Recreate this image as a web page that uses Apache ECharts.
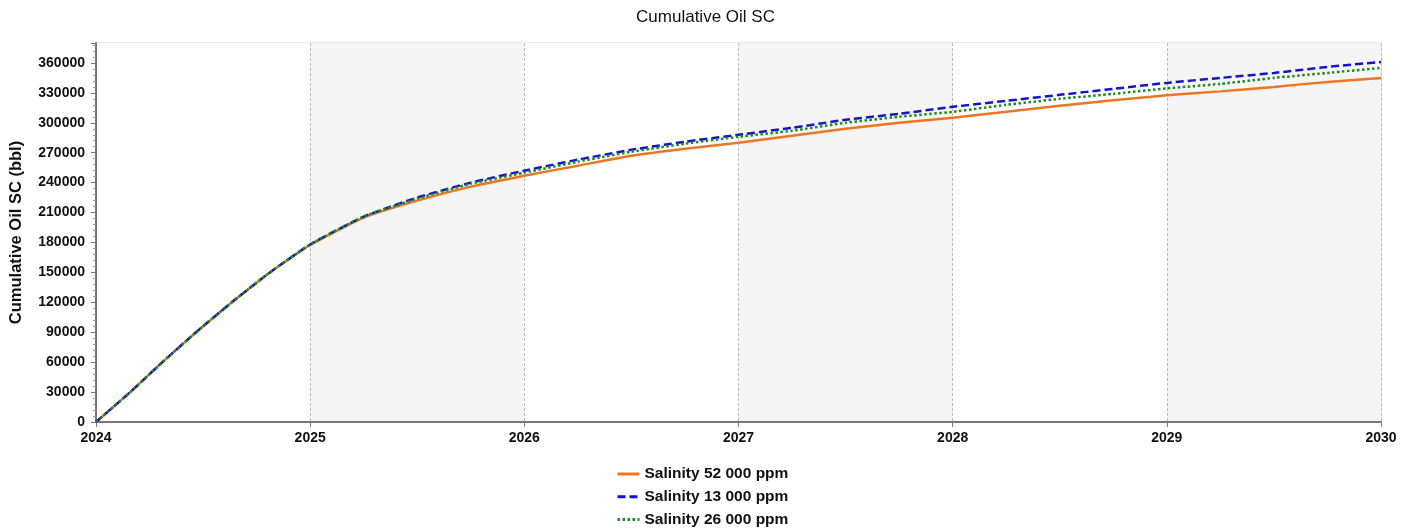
<!DOCTYPE html>
<html>
<head>
<meta charset="utf-8">
<script src="https://cdn.jsdelivr.net/npm/echarts@6/dist/echarts.min.js"></script>
<style>html,body{margin:0;padding:0;background:#fff;}#c{width:1411px;height:531px;}</style>
</head>
<body>
<div id="c"></div>
<script>
const times = [2024.0, 2024.16, 2024.31, 2024.467, 2024.634, 2024.812, 2025.0, 2025.25, 2025.5, 2025.75, 2026.0, 2026.25, 2026.5, 2026.75, 2027.0, 2027.25, 2027.5, 2027.75, 2028.0, 2028.25, 2028.5, 2028.75, 2029.0, 2029.25, 2029.5, 2029.75, 2030.0];
const sal52000 = [0, 30000, 60000, 90000, 120000, 150000, 177500, 205000, 222000, 236000, 247000, 257000, 267000, 274000, 280000, 287000, 294000, 300000, 305000, 311000, 317000, 322500, 327500, 331500, 336000, 341000, 345000];
const sal13000 = [0, 30000, 60000, 90000, 120000, 150000, 178000, 206000, 225000, 240000, 252000, 263000, 273000, 281000, 288000, 295000, 303000, 309000, 316000, 322000, 328000, 334000, 340000, 345000, 350000, 356000, 361000];
const sal26000 = [0, 30000, 60000, 90000, 120000, 150000, 178000, 206000, 224000, 239000, 250000, 261000, 271000, 279000, 286000, 292000, 300000, 306000, 311000, 318000, 324000, 329000, 334500, 339000, 345000, 350000, 355000];
const seriesNames = ['Salinity 52 000 ppm', 'Salinity 13 000 ppm', 'Salinity 26 000 ppm'];
const yAxisName = 'Cumulative Oil SC (bbl)';
const titleText = 'Cumulative Oil SC';

const pair = (vals) => times.map((t, i) => [t, vals[i]]);
const font = 'Arial, "Liberation Sans", sans-serif';

const chart = echarts.init(document.getElementById('c'));
chart.setOption({
  animation: false,
  backgroundColor: '#ffffff',
  title: {
    text: titleText, left: 'center', top: 4,
    textStyle: { fontFamily: font, fontSize: 17, fontWeight: 'normal', color: '#111' }
  },
  legend: {
    orient: 'vertical', left: 616, top: 466, padding: 0, height: 66,
    itemWidth: 22, itemHeight: 10, itemGap: 6.8,
    itemStyle: { opacity: 0 },
    lineStyle: { width: 3 },
    textStyle: { fontFamily: font, fontSize: 15.5, lineHeight: 16, fontWeight: 'bold', color: '#111' },
    data: seriesNames
  },
  grid: {
    left: 96, right: 30, top: 43, bottom: 109,
    show: true, borderColor: '#d4d4d4', borderWidth: 1, backgroundColor: 'transparent'
  },
  xAxis: {
    type: 'value', min: 2024, max: 2030, interval: 1,
    axisLine: { show: true, lineStyle: { color: '#777', width: 2 } },
    axisTick: { show: true, length: 5, lineStyle: { color: '#777' } },
    axisLabel: { formatter: v => String(v), fontFamily: font, fontSize: 14, fontWeight: 'bold', color: '#111', margin: 9 },
    splitLine: { show: true, lineStyle: { color: '#bbb', type: [3, 2], width: 1 } },
    splitArea: { show: true, areaStyle: { color: ['#ffffff', '#f5f5f5'] } }
  },
  yAxis: {
    type: 'value', min: 0, max: 380000, interval: 30000,
    name: yAxisName, nameLocation: 'middle', nameGap: 71, nameRotate: 90,
    nameTextStyle: { fontFamily: font, fontSize: 16.5, fontWeight: 'bold', color: '#111' },
    axisLine: { show: true, lineStyle: { color: '#777', width: 2 } },
    axisTick: { show: true, length: 5, lineStyle: { color: '#777' } },
    minorTick: { show: true, splitNumber: 5, length: 3, lineStyle: { color: '#999' } },
    axisLabel: { formatter: v => String(v), showMaxLabel: false, fontFamily: font, fontSize: 14, fontWeight: 'bold', color: '#111', margin: 11 },
    splitLine: { show: true, lineStyle: { color: '#bbb', type: [3, 2], width: 1 } }
  },
  graphic: [{
    type: 'text', left: 1312, top: 378,
    style: { text: 'cmg', fontFamily: font, fontSize: 30, fill: '#dddddd', fontWeight: 'normal' }
  }],
  series: [
    { name: seriesNames[0], type: 'line', data: pair(sal52000), showSymbol: false, symbol: 'none', smooth: 0.15,
      lineStyle: { color: '#f07522', width: 2.5, type: 'solid' }, itemStyle: { color: '#f07522' } },
    { name: seriesNames[1], type: 'line', data: pair(sal13000), showSymbol: false, symbol: 'none', smooth: 0.15,
      lineStyle: { color: '#1414c8', width: 2.5, type: [8, 4] }, itemStyle: { color: '#1414c8' } },
    { name: seriesNames[2], type: 'line', data: pair(sal26000), showSymbol: false, symbol: 'none', smooth: 0.15,
      lineStyle: { color: '#1f8a1f', width: 2.5, type: [2.5, 2.5] }, itemStyle: { color: '#1f8a1f' } }
  ]
});
</script>
</body>
</html>
